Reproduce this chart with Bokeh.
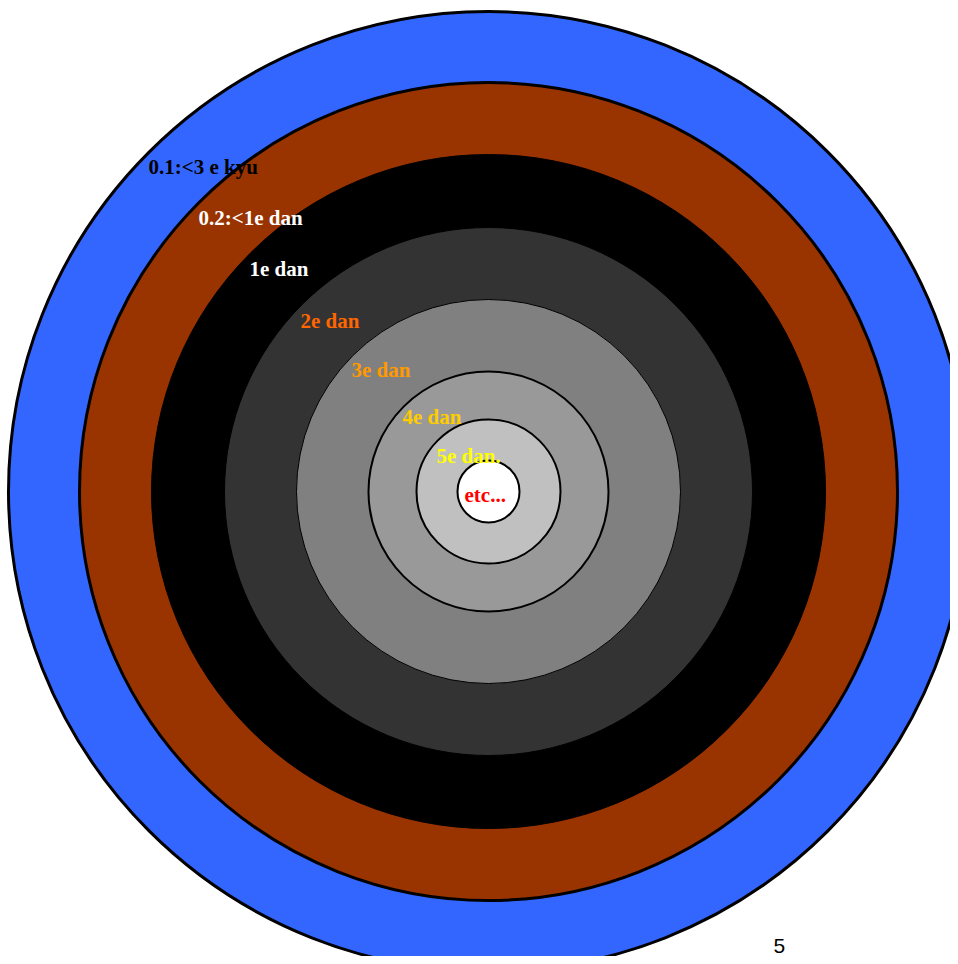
from bokeh.plotting import figure
from bokeh.models import Range1d, ColumnDataSource
from bokeh.core.properties import value
from bokeh.embed import file_html
from bokeh.resources import INLINE

# Rings (outer to inner)
ring_names = ["0.1:<3 e kyu", "0.2:<1e dan", "1e dan", "2e dan", "3e dan", "4e dan", "5e dan.", "etc..."]
ring_radii = [480, 409, 337, 264, 192, 120, 72, 31]
ring_fill = ["#3366FF", "#993300", "#000000", "#333333", "#808080", "#999999", "#C0C0C0", "#FFFFFF"]
ring_outline = [3, 3, 1, 1, 1, 2, 2, 2]
label_colors = ["#000000", "#FFFFFF", "#FFFFFF", "#FF6600", "#FF9900", "#FFCC00", "#FFFF00", "#FF0000"]
label_x = [148, 198, 249, 300, 351, 402, 436, 464]
label_y = [166, 217, 268, 320, 369, 416, 455, 494]
center = (488, 491)

W, H = 950, 956
p = figure(width=W, height=H, output_backend="svg", toolbar_location=None,
           x_range=Range1d(0, W), y_range=Range1d(H, 0),
           min_border=0, outline_line_color=None)
p.axis.visible = False
p.grid.visible = False
p.background_fill_color = "white"
p.border_fill_color = "white"

for r, f, lw in zip(ring_radii, ring_fill, ring_outline):
    p.circle(x=[center[0]], y=[center[1]], radius=r, fill_color=f,
             line_color="black", line_width=lw)

src = ColumnDataSource(dict(x=label_x, y=label_y, t=ring_names, c=label_colors))
p.text(x="x", y="y", text="t", text_color="c", source=src,
       text_font=value("Liberation Serif"), text_font_style="bold",
       text_font_size="21px", text_align="left", text_baseline="alphabetic")

p.text(x=[773], y=[945], text=["5"], text_color="black",
       text_font=value("Liberation Sans"), text_font_size="21px",
       text_align="left", text_baseline="alphabetic")

open("out.html", "w").write(file_html(p, INLINE))
